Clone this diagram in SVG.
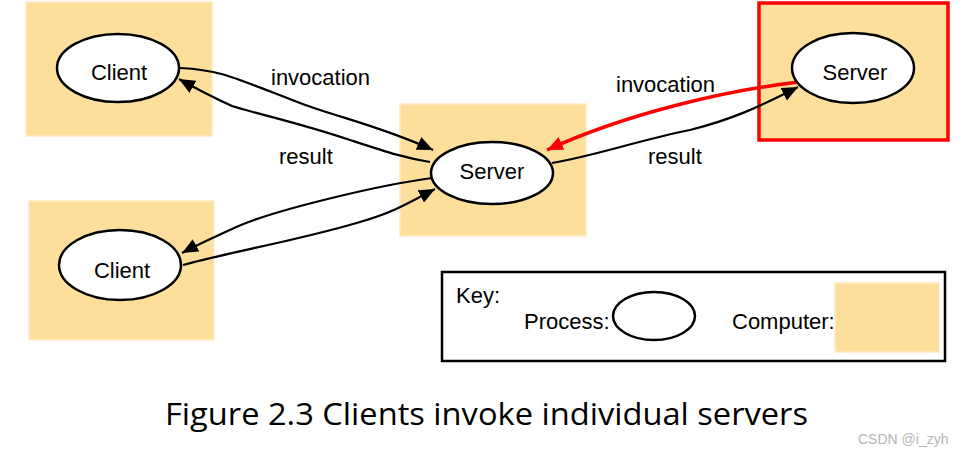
<svg xmlns="http://www.w3.org/2000/svg" width="972" height="458" viewBox="0 0 972 458">
<style>
.comp{fill:#FDDE9B;stroke:#FEEBC2;stroke-width:1.5}
.proc{fill:#fff;stroke:#000;stroke-width:2.5}
.lbl{font-family:"Liberation Sans",Arial,sans-serif;font-size:22px;fill:#000}
.ctr{text-anchor:middle}
.edge{fill:none;stroke:#000;stroke-width:2.2}
.red{fill:none;stroke:#F00;stroke-width:3.5}
</style>
<defs>
<marker id="ah" markerUnits="userSpaceOnUse" markerWidth="18" markerHeight="14" refX="16" refY="7" orient="auto">
<path d="M0,0 L16,7 L0,14 Z" fill="#000"/>
</marker>
<marker id="ahr" markerUnits="userSpaceOnUse" markerWidth="18" markerHeight="14" refX="16" refY="7" orient="auto">
<path d="M0,0 L16,7 L0,14 Z" fill="#F00"/>
</marker>
</defs>
<rect width="972" height="458" fill="#fff"/>

<g id="computer-top-left"><rect class="comp" x="26" y="2" width="186" height="134"/></g>
<g id="computer-bottom-left"><rect class="comp" x="29" y="201" width="185" height="139"/></g>
<g id="computer-middle"><rect class="comp" x="400" y="104" width="186" height="132"/></g>
<g id="computer-right"><rect class="comp" x="759" y="3" width="189" height="137"/><rect x="759" y="3" width="189" height="137" fill="none" stroke="#F00" stroke-width="3.5"/></g>

<g id="connectors">
<path class="edge" d="M180,68 C220,70 230,76 300,103 C340,118 380,126 433,150" marker-end="url(#ah)"/>
<path class="edge" d="M430,162 C405,158 390,153 350,140 C300,123 250,112 232,106 C210,96 195,88 179,79" marker-end="url(#ah)"/>
<path class="edge" d="M432,178 C410,181 390,184 340,196 C290,208 250,220 232,229 C210,239 195,246 182,253" marker-end="url(#ah)"/>
<path class="edge" d="M183,265 C230,252 300,240 360,222 C395,212 410,202 435,189" marker-end="url(#ah)"/>
<path class="edge" d="M552,163 C590,157 640,140 690,130 C730,120 757,108 798,87" marker-end="url(#ah)"/>
<path class="red" d="M799,82 C730,90 630,112 547,150" marker-end="url(#ahr)"/>
</g>

<g id="client-top"><ellipse class="proc" cx="118" cy="68" rx="61" ry="34"/><text class="lbl ctr" x="119" y="80">Client</text></g>
<g id="client-bottom"><ellipse class="proc" cx="120" cy="265" rx="61" ry="35"/><text class="lbl ctr" x="122" y="278">Client</text></g>
<g id="server-middle"><ellipse class="proc" cx="492" cy="173" rx="61" ry="31"/><text class="lbl ctr" x="492" y="179">Server</text></g>
<g id="server-right"><ellipse class="proc" cx="853" cy="68" rx="61" ry="35"/><text class="lbl ctr" x="855" y="80">Server</text></g>

<g id="labels">
<text class="lbl" x="271" y="85">invocation</text>
<text class="lbl" x="279" y="164">result</text>
<text class="lbl" x="616" y="92">invocation</text>
<text class="lbl" x="648" y="164">result</text>
</g>

<g id="key">
<rect x="442" y="272" width="503" height="89" fill="#fff" stroke="#000" stroke-width="2.5"/>
<text class="lbl" x="456" y="303">Key:</text>
<text class="lbl" x="524" y="329">Process:</text>
<ellipse class="proc" cx="654" cy="316" rx="41" ry="24"/>
<text class="lbl" x="732" y="329">Computer:</text>
<rect class="comp" x="835" y="283" width="104" height="69"/>
</g>

<text x="165" y="425" font-family="'Open Sans','Noto Sans',sans-serif" font-size="31" textLength="643" lengthAdjust="spacingAndGlyphs" fill="#000">Figure 2.3 Clients invoke individual servers</text>
<text x="858" y="444" font-family="'Liberation Sans',Arial,sans-serif" font-size="14" fill="#B5B5B5">CSDN @i_zyh</text>
</svg>
